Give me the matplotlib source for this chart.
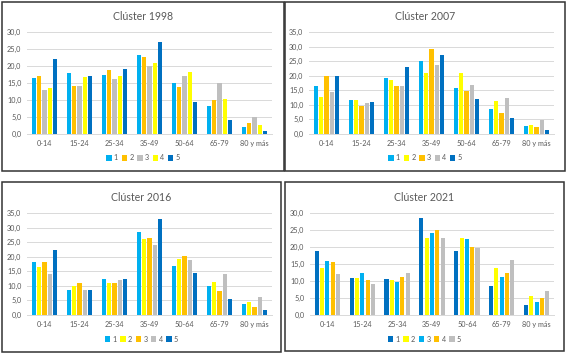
import matplotlib
matplotlib.use("Agg")
import matplotlib.pyplot as plt
from matplotlib.patches import Rectangle, Patch
import numpy as np

plt.rcParams['font.family'] = ['Lato', 'DejaVu Sans']

age_groups = ["0-14", "15-24", "25-34", "35-49", "50-64", "65-79", "80 y más"]
series_labels = ["1", "2", "3", "4", "5"]

LBLUE = "#00B0F0"
ORANGE = "#FFC000"
GRAY = "#BFBFBF"
YELLOW = "#FFFF00"
DBLUE = "#0070C0"

# cluster 1998
v1998 = [
    [16.4, 17.8, 17.3, 23.1, 15.0, 8.1, 2.0],
    [17.2, 14.1, 18.7, 22.6, 13.9, 10.0, 3.1],
    [13.0, 14.0, 16.1, 20.0, 17.0, 15.0, 5.0],
    [13.5, 16.8, 17.2, 21.0, 18.1, 10.3, 2.6],
    [22.2, 17.1, 19.1, 27.1, 9.5, 4.0, 0.9],
]
# cluster 2007
v2007 = [
    [16.4, 11.8, 19.2, 24.9, 15.9, 8.5, 2.7],
    [12.8, 11.6, 18.4, 21.1, 21.1, 11.2, 3.1],
    [19.9, 9.6, 16.6, 29.1, 14.8, 7.3, 2.3],
    [14.3, 10.8, 16.6, 23.8, 16.9, 12.2, 4.8],
    [19.8, 11.0, 23.0, 27.0, 11.9, 5.4, 1.5],
]
# cluster 2016
v2016 = [
    [18.1, 8.7, 12.5, 28.4, 16.8, 9.8, 3.9],
    [16.5, 9.8, 10.9, 26.1, 19.3, 11.3, 4.6],
    [18.1, 11.0, 11.1, 26.3, 20.2, 8.4, 2.8],
    [13.9, 8.7, 11.9, 24.0, 18.9, 14.1, 6.3],
    [22.4, 8.7, 12.5, 32.8, 14.4, 5.6, 1.8],
]
# cluster 2021
v2021 = [
    [18.8, 11.0, 10.7, 28.5, 18.9, 8.6, 2.9],
    [13.8, 10.9, 10.2, 22.6, 22.7, 13.8, 5.5],
    [15.9, 12.4, 9.8, 24.1, 22.3, 11.2, 3.9],
    [15.5, 10.2, 11.2, 25.0, 20.0, 12.4, 5.1],
    [12.2, 9.1, 12.5, 22.7, 19.8, 16.2, 7.1],
]

panels = [
    ("Clúster 1998", v1998, [LBLUE, ORANGE, GRAY, YELLOW, DBLUE], 30),
    ("Clúster 2007", v2007, [LBLUE, YELLOW, ORANGE, GRAY, DBLUE], 35),
    ("Clúster 2016", v2016, [LBLUE, YELLOW, ORANGE, GRAY, DBLUE], 35),
    ("Clúster 2021", v2021, [DBLUE, YELLOW, LBLUE, ORANGE, GRAY], 30),
]

W, H = 567, 354
# pixel boxes: (border l, t, r, b), (axes l, r, y0, ytop), title y, legend y
boxes = [
    ((2, 2, 284, 171), (27, 272, 134, 32), 16, 158),
    ((285, 2, 565, 171), (309, 554, 134, 32), 16, 158),
    ((2, 182, 281, 352), (27, 272, 315, 213), 198, 339),
    ((285, 182, 564, 351), (310, 554, 315, 213), 198, 339),
]

TXT = "#595959"
fig = plt.figure(figsize=(W / 100, H / 100), dpi=100)

for (title, vals, cols, ymax), (border, ax_box, ty, ly) in zip(panels, boxes):
    bl, bt, br, bb = border
    fig.patches.append(Rectangle((bl / W, 1 - bb / H), (br - bl) / W, (bb - bt) / H,
                                 transform=fig.transFigure, fill=False,
                                 edgecolor="#333333", linewidth=1.1))
    al, ar, y0, yt = ax_box
    ax = fig.add_axes([al / W, 1 - y0 / H, (ar - al) / W, (y0 - yt) / H])
    x = np.arange(len(age_groups))
    pitch = 0.152
    for i, s in enumerate(vals):
        ax.bar(x + (i - 2) * pitch, s, width=0.118, color=cols[i], linewidth=0)
    ax.set_xlim(-0.5, len(age_groups) - 0.5)
    ax.set_ylim(0, ymax)
    ax.set_yticks(np.arange(0, ymax + 0.1, 5))
    ax.set_yticklabels([f"{t:.1f}".replace(".", ",") for t in np.arange(0, ymax + 0.1, 5)])
    ax.set_xticks(x)
    ax.set_xticklabels(age_groups)
    ax.tick_params(axis="both", length=0, labelsize=5.2, colors=TXT, pad=4)
    ax.grid(axis="y", color="#D9D9D9", linewidth=0.7)
    ax.set_axisbelow(True)
    for sp in ["top", "right", "left"]:
        ax.spines[sp].set_visible(False)
    ax.spines["bottom"].set_color("#D9D9D9")
    ax.spines["bottom"].set_linewidth(0.7)
    cx = (bl + br) / 2
    fig.text(cx / W, 1 - ty / H, title, ha="center", va="center", fontsize=7.6, color=TXT)
    handles = [Patch(facecolor=c, edgecolor="none") for c in cols]
    fig.legend(handles, series_labels, loc="center", bbox_to_anchor=(cx / W, 1 - ly / H),
               ncol=5, frameon=False, fontsize=5.2, labelcolor=TXT,
               handlelength=0.75, handleheight=0.75, handletextpad=0.3, columnspacing=0.5)

fig.savefig("out.png", dpi=100)
